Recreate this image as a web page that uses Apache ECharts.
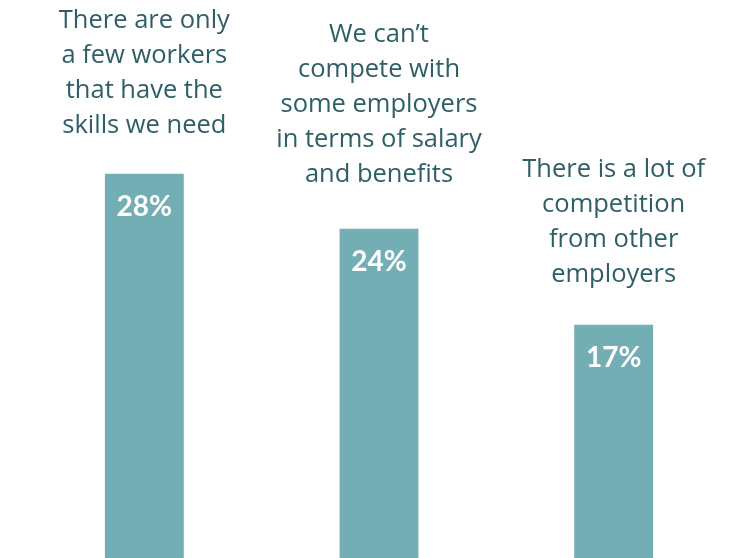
<!DOCTYPE html>
<html>
<head>
<meta charset="utf-8">
<script src="https://cdn.jsdelivr.net/npm/echarts@6/dist/echarts.min.js"></script>
<style>
  html, body { margin: 0; padding: 0; background: #ffffff; }
  #chart { width: 731px; height: 558px; }
</style>
</head>
<body>
<div id="chart"></div>
<script>
// Reasons given for hiring difficulties (share of respondents, %)
const categories = [
  'There are only\na few workers\nthat have the\nskills we need',
  'We can\u2019t\ncompete with\nsome employers\nin terms of salary\nand benefits',
  'There is a lot of\ncompetition\nfrom other\nemployers'
];
const shares = [28, 24, 17];
// gap between each caption and the top of its bar
const captionGaps = [31, 36, 33];

const barColor = '#74aeb5';
const textColor = '#2f5f66';

const chart = echarts.init(document.getElementById('chart'));
chart.setOption({
  animation: false,
  backgroundColor: '#ffffff',
  grid: { left: 27, right: 0, top: 0, bottom: 0 },
  xAxis: {
    type: 'category',
    data: categories,
    show: false
  },
  yAxis: {
    type: 'value',
    min: 0,
    max: 40.67,
    show: false
  },
  series: [
    {
      // visible bars with the percentage printed inside the top
      type: 'bar',
      data: shares,
      barWidth: '33.6%',
      itemStyle: { color: barColor },
      label: {
        show: true,
        position: 'insideTop',
        distance: 20,
        formatter: p => p.value + '%',
        color: '#ffffff',
        fontFamily: 'Lato, sans-serif',
        fontWeight: 'bold',
        fontSize: 28,
        lineHeight: 27
      },
      z: 2
    },
    {
      // transparent twin bars carrying the category captions above each bar
      type: 'bar',
      data: shares.map((v, i) => ({ value: v, label: { distance: captionGaps[i] } })),
      barWidth: '33.6%',
      barGap: '-100%',
      itemStyle: { color: 'rgba(0,0,0,0)' },
      silent: true,
      label: {
        show: true,
        position: 'top',
        formatter: p => categories[p.dataIndex],
        color: textColor,
        fontFamily: '"Open Sans", sans-serif',
        fontSize: 25.5,
        lineHeight: 35,
        align: 'center'
      },
      z: 1
    }
  ]
});
</script>
</body>
</html>
